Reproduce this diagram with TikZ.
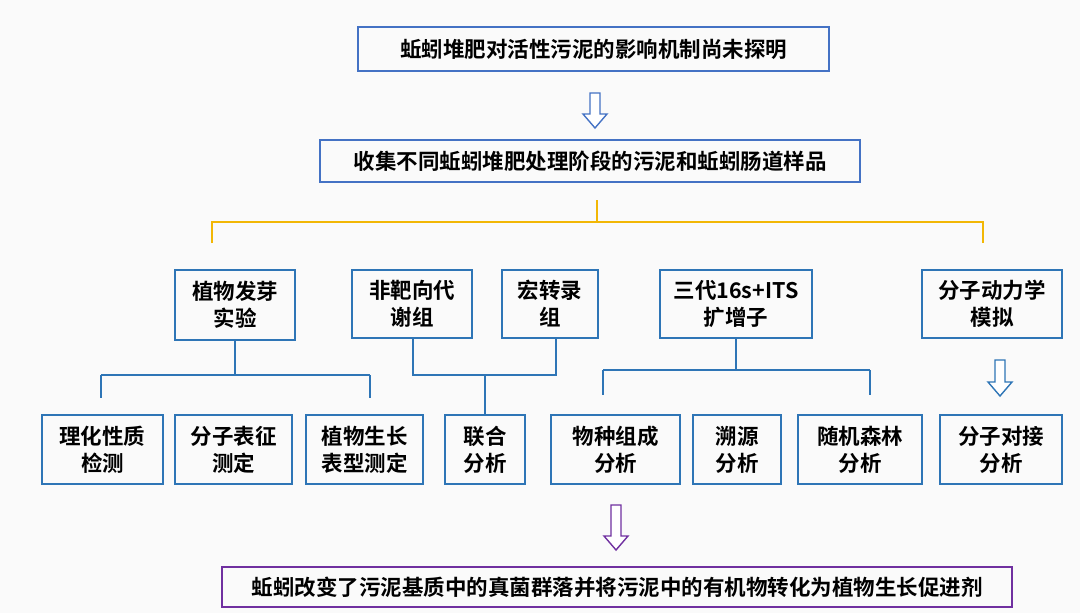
\documentclass[tikz,border=0pt]{standalone}
\usepackage{fontspec}
\setmainfont{Noto Sans CJK SC}[BoldFont={* Bold}]
\begin{document}
\definecolor{bx}{HTML}{2E75B6}
\definecolor{bt}{HTML}{4472C4}
\definecolor{gd}{HTML}{F2B705}
\definecolor{pp}{HTML}{7030A0}
\newcommand\harrow[4]{\draw[draw=#4,line width=1.4pt,fill=white] ({#1-5},{#2}) -- ({#1+5},{#2}) -- ({#1+5},{#3-14}) -- ({#1+12},{#3-14}) -- ({#1},{#3}) -- ({#1-12},{#3-14}) -- ({#1-5},{#3-14}) -- cycle;}
\begin{tikzpicture}[x=1pt,y=-1pt,
  box/.style={draw=bx,line width=1.6pt,align=center,font=\fontsize{21.5}{27}\selectfont\bfseries,inner sep=0pt},
  ln/.style={draw=bx,line width=1.6pt},
  gl/.style={draw=gd,line width=2.2pt}]
\fill[white!96!gray] (0,0) rectangle (1080,613);
\useasboundingbox (0,0) rectangle (1080,613);
\node[box,draw=bt,minimum width=471,minimum height=44] (t1) at (593.5,49) {蚯蚓堆肥对活性污泥的影响机制尚未探明};
\harrow{595}{93}{128}{bt}
\node[box,draw=bt,minimum width=540,minimum height=42] (t2) at (590,161) {收集不同蚯蚓堆肥处理阶段的污泥和蚯蚓肠道样品};
\coordinate (g0) at (597,200);
\draw[gl] (g0) -- (597,222) (212,243) -- (212,222) -- (983,222) -- (983,243);
% row 2
\node[box,minimum width=120,minimum height=70] (a) at (235,305) {植物发芽\\实验};
\node[box,minimum width=120,minimum height=68] (b) at (412,304) {非靶向代\\谢组};
\node[box,minimum width=96,minimum height=68] (c) at (550,304) {宏转录\\组};
\node[box,minimum width=152,minimum height=68] (d) at (736,304) {三代16s+ITS\\扩增子};
\node[box,minimum width=140,minimum height=68] (e) at (992,304) {分子动力学\\模拟};
% row 3
\node[box,minimum width=121,minimum height=69] (r1) at (102.5,449.5) {理化性质\\检测};
\node[box,minimum width=117,minimum height=69] (r2) at (233.5,449.5) {分子表征\\测定};
\node[box,minimum width=117,minimum height=69] (r3) at (364.5,449.5) {植物生长\\表型测定};
\node[box,minimum width=80,minimum height=69] (r4) at (485,449.5) {联合\\分析};
\node[box,minimum width=129,minimum height=69] (r5) at (615.5,449.5) {物种组成\\分析};
\node[box,minimum width=88,minimum height=69] (r6) at (737,449.5) {溯源\\分析};
\node[box,minimum width=124,minimum height=69] (r7) at (860,449.5) {随机森林\\分析};
\node[box,minimum width=122,minimum height=69] (r8) at (1001,449.5) {分子对接\\分析};
% connectors
\draw[ln] (a.south) -- (235,375) (101,375) -- (370,375);
\draw[ln] (101,375) -- (101,398) (370,375) -- (370,398);
\draw[ln] (413,338) -- (413,375) -- (556,375) -- (556,338) (485,375) -- (r4.north);
\draw[ln] (d.south) -- (736,370) (603,370) -- (870,370) (603,370) -- (603,395) (870,370) -- (870,395);
\harrow{1000}{360}{396}{bx}
\harrow{616}{505}{550}{pp}
\node[box,draw=pp,minimum width=790,minimum height=40] (z) at (617,587) {蚯蚓改变了污泥基质中的真菌群落并将污泥中的有机物转化为植物生长促进剂};
\end{tikzpicture}
\end{document}
